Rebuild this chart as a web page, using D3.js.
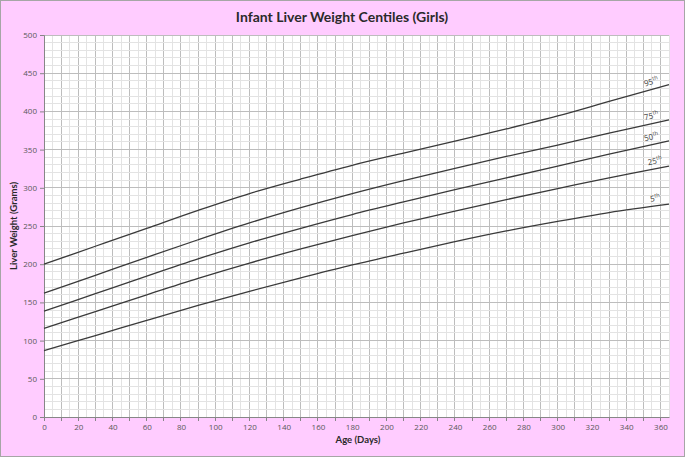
<!DOCTYPE html>
<html><head><meta charset="utf-8">
<script src="https://cdn.jsdelivr.net/npm/d3@7"></script>
<style>html,body{margin:0;padding:0;background:#fff}</style>
</head><body>
<svg id="chart" width="685" height="457"></svg>
<script>
const days = [0, 30, 60, 90, 120, 150, 180, 210, 240, 270, 300, 330, 365];
const p95 = [200, 223.5, 247, 270.5, 292.5, 311.5, 329.5, 345.5, 361, 377, 394, 413, 435];
const p75 = [162, 185.5, 209, 232, 254, 274, 292.5, 309.5, 325.5, 341, 356, 371.5, 389];
const p50 = [138.5, 161.5, 184.5, 207, 228, 247, 265, 281.5, 297.5, 313, 328.5, 344, 361.5];
const p25 = [116, 138, 160, 181.5, 201.5, 220, 237.5, 254, 269.5, 284.5, 299, 313, 328.5];
const p5  = [87, 106.5, 126.5, 146, 164.5, 182, 199, 214.5, 229.5, 243.5, 256, 267.5, 278.5];
const centileNames = ["95", "75", "50", "25", "5"];
const xTicks = d3.range(0, 361, 20);
const yTicks = d3.range(0, 501, 50);

(function () {
const series = [p95, p75, p50, p25, p5];
const svg = d3.select("#chart");
const W = 685, H = 457;
const mL = 44, mR = 669, mT = 35, mB = 417;
const x = d3.scaleLinear().domain([0, 365]).range([mL, mR]);
const y = d3.scaleLinear().domain([0, 500]).range([mB, mT]);

svg.append("rect").attr("x", 0.5).attr("y", 0.5).attr("width", W - 1).attr("height", H - 1)
  .attr("fill", "#ffccff").attr("stroke", "#a6a6a6").attr("stroke-width", 1);
svg.append("rect").attr("x", mL).attr("y", mT).attr("width", mR - mL).attr("height", mB - mT).attr("fill", "#fff");

const grid = svg.append("g");
d3.range(5, 366, 5).forEach(d => {
  const major = d % 10 === 0;
  grid.append("line").attr("x1", x(d)).attr("x2", x(d)).attr("y1", mT).attr("y2", mB)
    .attr("stroke", major ? "#bdbdbd" : "#e3e3e3").attr("stroke-width", 1).attr("shape-rendering", "crispEdges");
});
d3.range(10, 501, 10).forEach(v => {
  const major = v % 50 === 0;
  grid.append("line").attr("x1", mL).attr("x2", mR).attr("y1", y(v)).attr("y2", y(v))
    .attr("stroke", major ? "#bdbdbd" : "#e3e3e3").attr("stroke-width", 1).attr("shape-rendering", "crispEdges");
});

const xAxis = d3.axisBottom(x).tickValues(xTicks).tickSize(0).tickPadding(7);
const gx = svg.append("g").attr("transform", `translate(0,${mB})`).call(xAxis);
gx.select(".domain").attr("stroke", "#868686");
gx.selectAll("text").attr("font-family", "Open Sans, sans-serif").attr("font-size", 8).attr("fill", "#595959");
svg.append("g").selectAll("line").data(d3.range(0, 361, 10)).join("line")
  .attr("x1", d => x(d)).attr("x2", d => x(d)).attr("y1", mB).attr("y2", mB + 4)
  .attr("stroke", "#868686").attr("shape-rendering", "crispEdges");

const yAxis = d3.axisLeft(y).tickValues(yTicks).tickSize(4).tickPadding(3);
const gy = svg.append("g").attr("transform", `translate(${mL},0)`).call(yAxis);
gy.select(".domain").attr("stroke", "#868686");
gy.selectAll("line").attr("stroke", "#868686");
gy.selectAll("text").attr("font-family", "Open Sans, sans-serif").attr("font-size", 8).attr("fill", "#595959");

const line = d3.line().x((d, i) => x(days[i])).y(d => y(d)).curve(d3.curveCatmullRom.alpha(0.5));
series.forEach(s => {
  svg.append("path").attr("d", line(s)).attr("fill", "none").attr("stroke", "#3a3a3a").attr("stroke-width", 1.3);
});

series.forEach((s, k) => {
  const labelDay = k >= 3 ? 357 : 355;
  const interp = d3.scaleLinear().domain(days).range(s);
  const px = x(labelDay), py = y(interp(labelDay));
  const slope = (y(interp(labelDay + 10)) - y(interp(labelDay - 10))) / (x(labelDay + 10) - x(labelDay - 10));
  const ang = Math.atan(slope) * 180 / Math.PI;
  const t = svg.append("text").attr("transform", `translate(${px},${py - 5}) rotate(${ang})`)
    .attr("text-anchor", "middle").attr("font-family", "Open Sans, sans-serif").attr("font-size", 8).attr("fill", "#404040");
  t.append("tspan").attr("fill", "#404040").text(centileNames[k]);
  t.append("tspan").attr("fill", "#404040").attr("font-size", 5.5).attr("dy", -3.5).text("th");
});

svg.append("text").attr("x", 342).attr("y", 22).attr("text-anchor", "middle")
  .attr("font-family", "Lato, sans-serif").attr("font-weight", "bold").attr("font-size", 14).attr("fill", "#2a2a2a")
  .text("Infant Liver Weight Centiles (Girls)");
svg.append("text").attr("x", 358).attr("y", 443).attr("text-anchor", "middle")
  .attr("font-family", "Lato, sans-serif").attr("font-weight", "bold").attr("font-size", 9.5).attr("fill", "#2a2a2a")
  .text("Age (Days)");
svg.append("text").attr("transform", `translate(17,226) rotate(-90)`).attr("text-anchor", "middle")
  .attr("font-family", "Lato, sans-serif").attr("font-weight", "bold").attr("font-size", 9.5).attr("fill", "#2a2a2a")
  .text("Liver Weight (Grams)");
})();
</script>
</body></html>
